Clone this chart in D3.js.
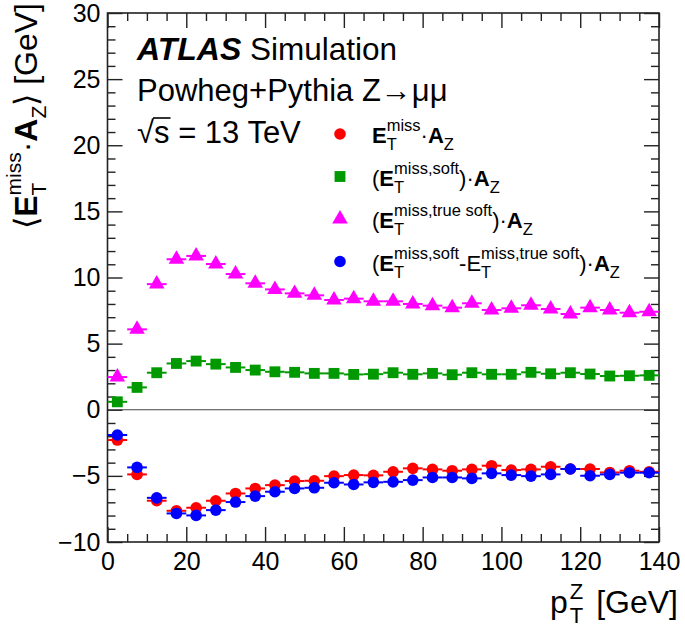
<!DOCTYPE html>
<html>
<head>
<meta charset="utf-8">
<script src="https://cdn.jsdelivr.net/npm/d3@7/dist/d3.min.js"></script>
<style>
  html, body { margin: 0; padding: 0; background: #fff; }
  svg { display: block; font-family: "Liberation Sans", Arial, Helvetica, sans-serif; }
  svg text { white-space: pre; }
</style>
</head>
<body>
<svg id="chart" width="685" height="637"></svg>
<script>
// ---- data ----
const binCenters = [2.5, 7.5, 12.5, 17.5, 22.5, 27.5, 32.5, 37.5, 42.5, 47.5, 52.5, 57.5, 62.5, 67.5,
                    72.5, 77.5, 82.5, 87.5, 92.5, 97.5, 102.5, 107.5, 112.5, 117.5, 122.5, 127.5, 132.5, 137.5];
const binHalfWidth = 2.5;
const metAZ = [-2.29, -4.89, -6.88, -7.64, -7.41, -6.88, -6.33, -5.95, -5.70, -5.39, -5.37, -5.02, -4.94, -4.96,
               -4.69, -4.43, -4.51, -4.61, -4.51, -4.23, -4.56, -4.51, -4.31, -4.48, -4.48, -4.74, -4.61, -4.69];
const softAZ = [0.60, 1.69, 2.80, 3.50, 3.68, 3.45, 3.20, 3.00, 2.87, 2.83, 2.75, 2.75, 2.67, 2.69,
                2.80, 2.68, 2.75, 2.65, 2.80, 2.68, 2.68, 2.83, 2.72, 2.80, 2.70, 2.55, 2.57, 2.60];
const trueSoftAZ = [2.47, 6.08, 9.50, 11.38, 11.63, 11.02, 10.26, 9.56, 9.10, 8.80, 8.65, 8.30, 8.40, 8.20,
                    8.20, 8.00, 7.87, 7.72, 8.05, 7.54, 7.67, 7.90, 7.62, 7.24, 7.72, 7.54, 7.34, 7.41];
const diffAZ = [-1.91, -4.36, -6.66, -7.84, -7.99, -7.59, -6.98, -6.53, -6.20, -5.95, -5.90, -5.52, -5.65, -5.49,
                -5.45, -5.32, -5.12, -5.12, -5.19, -4.81, -4.94, -5.02, -4.89, -4.48, -4.99, -4.89, -4.76, -4.76];
const xMajorTicks = [0, 20, 40, 60, 80, 100, 120, 140];
const yMajorTicks = [-10, -5, 0, 5, 10, 15, 20, 25, 30];

// ---- setup ----
const svg = d3.select("#chart");
const FL = 107.5, FR = 659, FT = 13, FB = 542;
const x = d3.scaleLinear().domain([0, 140]).range([FL, FR]);
const y = d3.scaleLinear().domain([-10, 30]).range([FB, FT]);
const FONT = '"Liberation Sans", Arial, Helvetica, sans-serif';
const AXC = "#222";

// rich text helper: pieces laid out left to right; stack=true puts piece at same x as previous
function rich(parent, pieces, anchor) {
  const g = parent.append("g");
  let cur = 0, prevStart = 0, prevW = 0;
  const placed = [];
  pieces.forEach(p => {
    const t = g.append("text")
      .attr("xml:space", "preserve")
      .style("white-space", "pre")
      .attr("font-family", FONT)
      .attr("font-size", p.size)
      .attr("font-weight", p.bold ? "bold" : "normal")
      .attr("font-style", p.italic ? "italic" : "normal")
      .attr("fill", "#000")
      .attr("y", -(p.shift || 0))
      .text(p.t);
    const w = t.node().getComputedTextLength();
    let sx;
    if (p.stack) {
      sx = prevStart;
      cur = prevStart + Math.max(prevW, w);
      prevW = Math.max(prevW, w);
    } else {
      sx = cur + (p.dx || 0);
      prevStart = sx; prevW = w;
      cur = sx + w;
    }
    t.attr("x", sx);
    placed.push({sel: t, x: sx, w: w});
  });
  if (anchor === "end") g.attr("transform", `translate(${-cur},0)`);
  return {g, placed, width: cur};
}

// ---- axes ----
const xMinor = d3.range(0, 141, 5).filter(v => v % 20 !== 0);
const yMinor = d3.range(-10, 31, 1).filter(v => v % 5 !== 0);
function styleAxis(sel) {
  sel.select(".domain").remove();
  sel.selectAll(".tick line").attr("stroke", AXC).attr("stroke-width", 1.4);
  sel.selectAll(".tick text").attr("font-family", FONT).attr("font-size", 25).attr("fill", "#000");
}
// bottom
svg.append("g").attr("transform", `translate(0,${FB})`)
  .call(d3.axisBottom(x).tickValues(xMajorTicks).tickSizeInner(-15).tickSizeOuter(0).tickPadding(10).tickFormat(d3.format("d")))
  .call(styleAxis);
svg.append("g").attr("transform", `translate(0,${FB})`)
  .call(d3.axisBottom(x).tickValues(xMinor).tickSizeInner(-8).tickSizeOuter(0).tickFormat(""))
  .call(styleAxis);
// top
svg.append("g").attr("transform", `translate(0,${FT})`)
  .call(d3.axisTop(x).tickValues(xMajorTicks).tickSizeInner(-15).tickSizeOuter(0).tickFormat(""))
  .call(styleAxis);
svg.append("g").attr("transform", `translate(0,${FT})`)
  .call(d3.axisTop(x).tickValues(xMinor).tickSizeInner(-8).tickSizeOuter(0).tickFormat(""))
  .call(styleAxis);
// left
svg.append("g").attr("transform", `translate(${FL},0)`)
  .call(d3.axisLeft(y).tickValues(yMajorTicks).tickSizeInner(-15).tickSizeOuter(0).tickPadding(7).tickFormat(d3.format("d")))
  .call(styleAxis);
svg.append("g").attr("transform", `translate(${FL},0)`)
  .call(d3.axisLeft(y).tickValues(yMinor).tickSizeInner(-8).tickSizeOuter(0).tickFormat(""))
  .call(styleAxis);
// right
svg.append("g").attr("transform", `translate(${FR},0)`)
  .call(d3.axisRight(y).tickValues(yMajorTicks).tickSizeInner(-15).tickSizeOuter(0).tickFormat(""))
  .call(styleAxis);
svg.append("g").attr("transform", `translate(${FR},0)`)
  .call(d3.axisRight(y).tickValues(yMinor).tickSizeInner(-8).tickSizeOuter(0).tickFormat(""))
  .call(styleAxis);

// zero line
svg.append("line").attr("x1", FL).attr("x2", FR).attr("y1", y(0)).attr("y2", y(0))
  .attr("stroke", "#444").attr("stroke-width", 1.2);

// frame
svg.append("rect").attr("x", FL).attr("y", FT).attr("width", FR - FL).attr("height", FB - FT)
  .attr("fill", "none").attr("stroke", AXC).attr("stroke-width", 1.6);

// ---- data series ----
const series = [
  {vals: trueSoftAZ, color: "#ff00ff", shape: "triangle"},
  {vals: softAZ, color: "#009a00", shape: "square"},
  {vals: metAZ, color: "#ff0000", shape: "circle"},
  {vals: diffAZ, color: "#0000ff", shape: "circle"}
];
function drawMarker(g, shape, color, cx, cy) {
  if (shape === "circle") {
    g.append("circle").attr("cx", cx).attr("cy", cy).attr("r", 5.8).attr("fill", color);
  } else {
    const sym = shape === "square" ? d3.symbolSquare : d3.symbolTriangle;
    const size = shape === "square" ? 118 : 105;
    g.append("path").attr("d", d3.symbol().type(sym).size(size)())
      .attr("transform", `translate(${cx},${cy})`).attr("fill", color);
  }
}
series.forEach(s => {
  const g = svg.append("g");
  binCenters.forEach((c, i) => {
    g.append("line")
      .attr("x1", x(c - binHalfWidth)).attr("x2", x(c + binHalfWidth))
      .attr("y1", y(s.vals[i])).attr("y2", y(s.vals[i]))
      .attr("stroke", s.color).attr("stroke-width", 2);
  });
  binCenters.forEach((c, i) => drawMarker(g, s.shape, s.color, x(c), y(s.vals[i])));
});

// ---- labels ----
const t1 = svg.append("g").attr("transform", "translate(137,60)");
rich(t1, [{t: "ATLAS", size: 32, bold: true, italic: true}, {t: " Simulation", size: 31.5}]);
const t2 = svg.append("g").attr("transform", "translate(137,101)");
rich(t2, [{t: "Powheg+Pythia Z→μμ", size: 31}]);
const t3 = svg.append("g").attr("transform", "translate(137,143)");
const r3 = rich(t3, [{t: "√", size: 31}, {t: "s", size: 31}, {t: " = 13 TeV", size: 31}]);
const sP = r3.placed[1];
t3.append("line").attr("x1", sP.x - 1).attr("x2", sP.x + sP.w + 1).attr("y1", -25).attr("y2", -25)
  .attr("stroke", "#000").attr("stroke-width", 1.6);

// legend
const LS = 22, LSS = 16.5;
const legendRows = [
  {color: "#ff0000", shape: "circle", pieces: [
    {t: "E", size: LS, bold: true}, {t: "T", size: LSS, shift: -7}, {t: "miss", size: LSS, shift: 12, stack: true},
    {t: "·", size: LS}, {t: "A", size: LS, bold: true}, {t: "Z", size: LSS, shift: -7}]},
  {color: "#009a00", shape: "square", pieces: [
    {t: "(", size: LS}, {t: "E", size: LS, bold: true}, {t: "T", size: LSS, shift: -7}, {t: "miss,soft", size: LSS, shift: 12, stack: true},
    {t: ")·", size: LS}, {t: "A", size: LS, bold: true}, {t: "Z", size: LSS, shift: -7}]},
  {color: "#ff00ff", shape: "triangle", pieces: [
    {t: "(", size: LS}, {t: "E", size: LS, bold: true}, {t: "T", size: LSS, shift: -7}, {t: "miss,true soft", size: LSS, shift: 12, stack: true},
    {t: ")·", size: LS}, {t: "A", size: LS, bold: true}, {t: "Z", size: LSS, shift: -7}]},
  {color: "#0000ff", shape: "circle", pieces: [
    {t: "(", size: LS}, {t: "E", size: LS, bold: true}, {t: "T", size: LSS, shift: -7}, {t: "miss,soft", size: LSS, shift: 12, stack: true},
    {t: "-E", size: LS}, {t: "T", size: LSS, shift: -7}, {t: "miss,true soft", size: LSS, shift: 12, stack: true},
    {t: ")·", size: LS}, {t: "A", size: LS, bold: true}, {t: "Z", size: LSS, shift: -7}]}
];
legendRows.forEach((row, i) => {
  const cy = 134 + i * 42.5;
  drawMarker(svg, row.shape, row.color, 340, cy);
  const g = svg.append("g").attr("transform", `translate(372,${cy + 9})`);
  rich(g, row.pieces);
});

// y-axis title (rotated)
const yt = svg.append("g").attr("transform", "translate(37,3) rotate(-90)");
rich(yt, [
  {t: "⟨", size: 32}, {t: "E", size: 32, bold: true}, {t: "T", size: 21, shift: -9},
  {t: "miss", size: 21, shift: 16, stack: true}, {t: "·", size: 32}, {t: "A", size: 32, bold: true},
  {t: "Z", size: 21, shift: -9}, {t: "⟩", size: 32}, {t: " [GeV]", size: 32}
], "end");

// x-axis title
const xt = svg.append("g").attr("transform", "translate(678,613)");
rich(xt, [
  {t: "p", size: 32}, {t: "T", size: 22, shift: -10, dx: 2}, {t: "Z", size: 22, shift: 14, stack: true},
  {t: " [GeV]", size: 32, dx: 4}
], "end");
</script>
</body>
</html>
